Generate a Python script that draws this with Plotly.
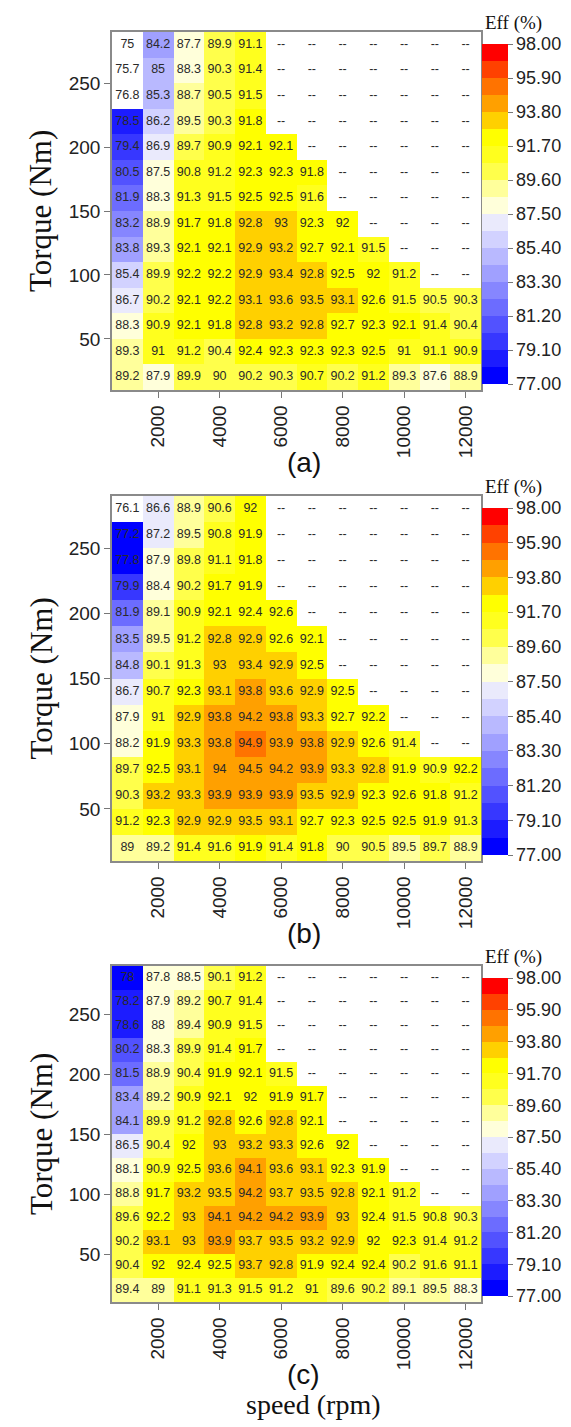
import plotly.graph_objects as go

# ---------------- data ----------------
speed = [1000, 2000, 3000, 4000, 5000, 6000, 7000, 8000, 9000, 10000, 11000, 12000]
torque = [280, 260, 240, 220, 200, 180, 160, 140, 120, 100, 80, 60, 40, 20]  # top -> bottom
N = None

eff_a = [
    [75, 84.2, 87.7, 89.9, 91.1, N, N, N, N, N, N, N],
    [75.7, 85, 88.3, 90.3, 91.4, N, N, N, N, N, N, N],
    [76.8, 85.3, 88.7, 90.5, 91.5, N, N, N, N, N, N, N],
    [78.5, 86.2, 89.5, 90.3, 91.8, N, N, N, N, N, N, N],
    [79.4, 86.9, 89.7, 90.9, 92.1, 92.1, N, N, N, N, N, N],
    [80.5, 87.5, 90.8, 91.2, 92.3, 92.3, 91.8, N, N, N, N, N],
    [81.9, 88.3, 91.3, 91.5, 92.5, 92.5, 91.6, N, N, N, N, N],
    [83.2, 88.9, 91.7, 91.8, 92.8, 93, 92.3, 92, N, N, N, N],
    [83.8, 89.3, 92.1, 92.1, 92.9, 93.2, 92.7, 92.1, 91.5, N, N, N],
    [85.4, 89.9, 92.2, 92.2, 92.9, 93.4, 92.8, 92.5, 92, 91.2, N, N],
    [86.7, 90.2, 92.1, 92.2, 93.1, 93.6, 93.5, 93.1, 92.6, 91.5, 90.5, 90.3],
    [88.3, 90.9, 92.1, 91.8, 92.8, 93.2, 92.8, 92.7, 92.3, 92.1, 91.4, 90.4],
    [89.3, 91, 91.2, 90.4, 92.4, 92.3, 92.3, 92.3, 92.5, 91, 91.1, 90.9],
    [89.2, 87.9, 89.9, 90, 90.2, 90.3, 90.7, 90.2, 91.2, 89.3, 87.6, 88.9],
]

eff_b = [
    [76.1, 86.6, 88.9, 90.6, 92, N, N, N, N, N, N, N],
    [77.2, 87.2, 89.5, 90.8, 91.9, N, N, N, N, N, N, N],
    [77.8, 87.9, 89.8, 91.1, 91.8, N, N, N, N, N, N, N],
    [79.9, 88.4, 90.2, 91.7, 91.9, N, N, N, N, N, N, N],
    [81.9, 89.1, 90.9, 92.1, 92.4, 92.6, N, N, N, N, N, N],
    [83.5, 89.5, 91.2, 92.8, 92.9, 92.6, 92.1, N, N, N, N, N],
    [84.8, 90.1, 91.3, 93, 93.4, 92.9, 92.5, N, N, N, N, N],
    [86.7, 90.7, 92.3, 93.1, 93.8, 93.6, 92.9, 92.5, N, N, N, N],
    [87.9, 91, 92.9, 93.8, 94.2, 93.8, 93.3, 92.7, 92.2, N, N, N],
    [88.2, 91.9, 93.3, 93.8, 94.9, 93.9, 93.8, 92.9, 92.6, 91.4, N, N],
    [89.7, 92.5, 93.1, 94, 94.5, 94.2, 93.9, 93.3, 92.8, 91.9, 90.9, 92.2],
    [90.3, 93.2, 93.3, 93.9, 93.9, 93.9, 93.5, 92.9, 92.3, 92.6, 91.8, 91.2],
    [91.2, 92.3, 92.9, 92.9, 93.5, 93.1, 92.7, 92.3, 92.5, 92.5, 91.9, 91.3],
    [89, 89.2, 91.4, 91.6, 91.9, 91.4, 91.8, 90, 90.5, 89.5, 89.7, 88.9],
]

eff_c = [
    [78, 87.8, 88.5, 90.1, 91.2, N, N, N, N, N, N, N],
    [78.2, 87.9, 89.2, 90.7, 91.4, N, N, N, N, N, N, N],
    [78.6, 88, 89.4, 90.9, 91.5, N, N, N, N, N, N, N],
    [80.2, 88.3, 89.9, 91.4, 91.7, N, N, N, N, N, N, N],
    [81.5, 88.9, 90.4, 91.9, 92.1, 91.5, N, N, N, N, N, N],
    [83.4, 89.2, 90.9, 92.1, 92, 91.9, 91.7, N, N, N, N, N],
    [84.1, 89.9, 91.2, 92.8, 92.6, 92.8, 92.1, N, N, N, N, N],
    [86.5, 90.4, 92, 93, 93.2, 93.3, 92.6, 92, N, N, N, N],
    [88.1, 90.9, 92.5, 93.6, 94.1, 93.6, 93.1, 92.3, 91.9, N, N, N],
    [88.8, 91.7, 93.2, 93.5, 94.2, 93.7, 93.5, 92.8, 92.1, 91.2, N, N],
    [89.6, 92.2, 93, 94.1, 94.2, 94.2, 93.9, 93, 92.4, 91.5, 90.8, 90.3],
    [90.2, 93.1, 93, 93.9, 93.7, 93.5, 93.2, 92.9, 92, 92.3, 91.4, 91.2],
    [90.4, 92, 92.4, 92.5, 93.7, 92.8, 91.9, 92.4, 92.4, 90.2, 91.6, 91.1],
    [89.4, 89, 91.1, 91.3, 91.5, 91.2, 91, 89.6, 90.2, 89.1, 89.5, 88.3],
]

panel_labels = ["(a)", "(b)", "(c)"]
x_ticks = [2000, 4000, 6000, 8000, 10000, 12000]
x_ticktext = ["2000", "4000", "6000", "8000", "10000", "12000"]
y_ticks = [50, 100, 150, 200, 250]
cb_ticks = [77.0, 79.1, 81.2, 83.3, 85.4, 87.5, 89.6, 91.7, 93.8, 95.9, 98.0]
cb_ticktext = ["77.00", "79.10", "81.20", "83.30", "85.40", "87.50",
               "89.60", "91.70", "93.80", "95.90", "98.00"]
ZMIN, ZMAX = 77.0, 98.0

# 20 discrete colour bands from 77 to 98
band_colors = [
    "rgb(0,0,255)", "rgb(28,28,255)", "rgb(55,55,255)", "rgb(82,82,255)",
    "rgb(108,108,255)", "rgb(134,134,255)", "rgb(160,160,255)", "rgb(185,185,255)",
    "rgb(210,210,255)", "rgb(234,234,252)", "rgb(255,255,218)", "rgb(255,255,155)",
    "rgb(255,255,75)", "rgb(255,255,30)", "rgb(255,255,0)", "rgb(255,208,0)",
    "rgb(255,160,0)", "rgb(255,115,0)", "rgb(255,65,0)", "rgb(255,0,0)",
]
colorscale = []
nb = len(band_colors)
for i, c in enumerate(band_colors):
    colorscale.append([i / nb, c])
    colorscale.append([(i + 1) / nb, c])

# ---------------- layout helpers ----------------
W, H = 571, 1427
X0, X1 = 104, 473
panels_px = [(24, 382), (488, 853), (958, 1294)]  # (top, bottom) in pixels


def yp(y):
    return 1 - y / H


def xp(x):
    return x / W


SANS = "Liberation Sans, Arial, sans-serif"
SERIF = "Liberation Serif, Times New Roman, serif"

fig = go.Figure()
annotations = []

for k, (data, (top, bot)) in enumerate(zip([eff_a, eff_b, eff_c], panels_px)):
    xa = "x" if k == 0 else f"x{k+1}"
    ya = "y" if k == 0 else f"y{k+1}"
    z = [[(v if (v is not None and v >= ZMIN) else None) for v in row] for row in data]

    fig.add_trace(go.Heatmap(
        x=speed, y=torque, z=z, xaxis=xa, yaxis=ya,
        zmin=ZMIN, zmax=ZMAX, colorscale=colorscale,
        hoverongaps=False,
        colorbar=dict(
            x=xp(474), xanchor="left", y=yp(bot - 6), yanchor="bottom",
            len=(bot - top - 18), lenmode="pixels",
            thickness=26, thicknessmode="pixels",
            tickvals=cb_ticks, ticktext=cb_ticktext,
            ticks="outside", ticklen=5, tickcolor="#777",
            tickfont=dict(family=SANS, size=18, color="#222"),
            outlinewidth=0, xpad=0, ypad=0,
        ),
    ))

    tx, ty, tt = [], [], []
    for r, row in enumerate(data):
        for c, v in enumerate(row):
            tx.append(speed[c])
            ty.append(torque[r])
            tt.append("--" if v is None else f"{v:g}")
    fig.add_trace(go.Scatter(
        x=tx, y=ty, text=tt, mode="text", xaxis=xa, yaxis=ya,
        textfont=dict(family=SANS, size=12.5, color="#2a2a2a"),
        hoverinfo="skip", showlegend=False,
    ))

    axis_common = dict(
        showline=True, mirror=True, linecolor="#8a8a8a", linewidth=1.5,
        showgrid=False, zeroline=False, ticks="outside", ticklen=6,
        tickcolor="#777", tickfont=dict(family=SANS, size=19, color="#222"),
    )
    fig.layout[("xaxis" if k == 0 else f"xaxis{k+1}")] = dict(
        domain=[xp(X0), xp(X1)], anchor=ya, range=[500, 12500],
        tickvals=x_ticks, ticktext=x_ticktext, tickangle=-90, **axis_common,
    )
    fig.layout[("yaxis" if k == 0 else f"yaxis{k+1}")] = dict(
        domain=[yp(bot), yp(top)], anchor=xa, range=[10, 290],
        tickvals=y_ticks, **axis_common,
    )

    # y-axis title
    annotations.append(dict(
        text="Torque (Nm)", x=xp(33), y=yp((top + bot) / 2), xref="paper", yref="paper",
        showarrow=False, textangle=-90, font=dict(family=SERIF, size=31, color="#111"),
        xanchor="center", yanchor="middle",
    ))
    # panel label
    annotations.append(dict(
        text=panel_labels[k], x=xp(296), y=yp(bot + 72), xref="paper", yref="paper",
        showarrow=False, font=dict(family=SANS, size=28, color="#111"),
        xanchor="center", yanchor="middle",
    ))
    # colorbar title
    annotations.append(dict(
        text="Eff (%)", x=xp(505), y=yp(top - 9), xref="paper", yref="paper",
        showarrow=False, font=dict(family=SERIF, size=19, color="#111"),
        xanchor="center", yanchor="middle",
    ))

annotations.append(dict(
    text="speed (rpm)", x=xp(305), y=yp(1396), xref="paper", yref="paper",
    showarrow=False, font=dict(family=SERIF, size=28, color="#111"),
    xanchor="center", yanchor="middle",
))

fig.update_layout(
    width=W, height=H, autosize=False,
    margin=dict(l=0, r=0, t=0, b=0),
    paper_bgcolor="white", plot_bgcolor="white",
    showlegend=False, annotations=annotations,
)

fig.write_html("out.html")
